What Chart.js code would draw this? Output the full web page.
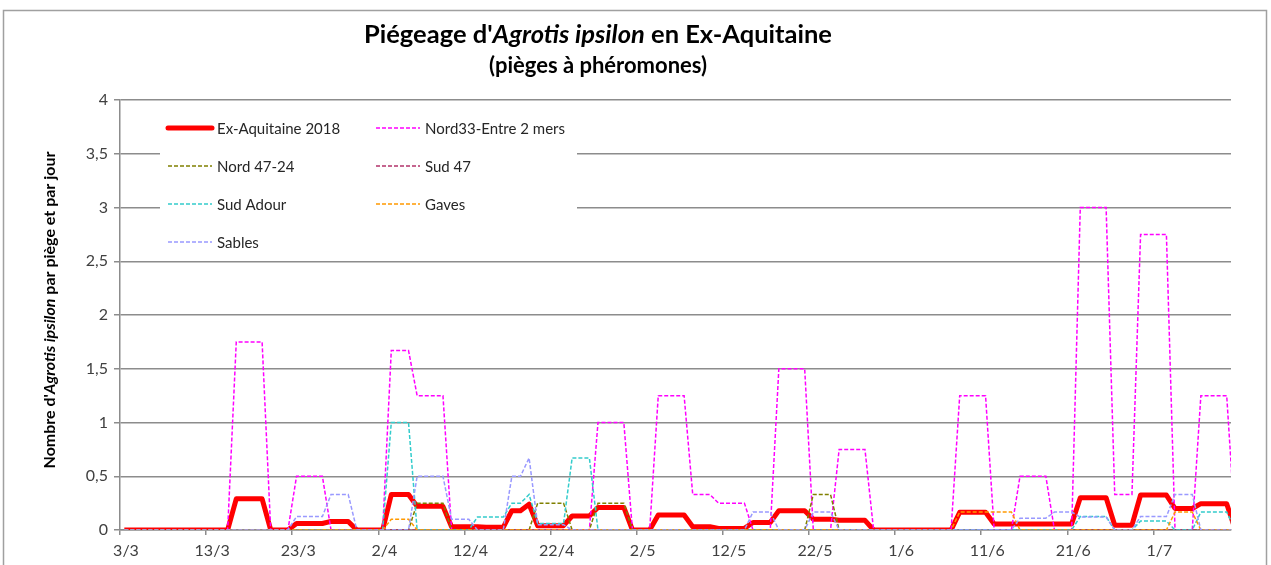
<!DOCTYPE html>
<html>
<head>
<meta charset="utf-8">
<script src="https://cdn.jsdelivr.net/npm/chart.js@4.4.0/dist/chart.umd.min.js"></script>
<style>
  html, body { margin: 0; padding: 0; background: #fff; }
  canvas { display: block; }
</style>
</head>
<body>
<canvas id="graphique" width="1271" height="565"></canvas>
<script>
// une valeur par jour, du 3/3 au 10/7
const xTickLabels = ["3/3", "13/3", "23/3", "2/4", "12/4", "22/4", "2/5", "12/5", "22/5", "1/6", "11/6", "21/6", "1/7"];
const yTickStep = 0.5;

const exAquitaine = [
  0,0,0,0,0,0,0,0,0,0,0,0,0,
  0.29,0.29,0.29,0.29, 0,0,0, 0.06,0.06,0.06,0.06, 0.08,0.08,0.08, 0,0,0,0,
  0.33,0.33,0.33, 0.22,0.22,0.22,0.22, 0.03,0.03,0.03,0.03, 0.025,0.025,0.025,
  0.18,0.18, 0.24, 0.04,0.04,0.04,0.04, 0.13,0.13,0.13, 0.21,0.21,0.21,0.21, 0,0,0,
  0.14,0.14,0.14,0.14, 0.03,0.03,0.03, 0.015,0.015,0.015,0.015, 0.07,0.07,0.07,
  0.18,0.18,0.18,0.18, 0.1,0.1,0.1, 0.09,0.09,0.09,0.09,
  0,0,0,0,0,0,0,0,0,0,
  0.165,0.165,0.165,0.165,
  0.056,0.056,0.056,0.056,0.056,0.056,0.056,0.056,0.056,0.056,
  0.3,0.3,0.3,0.3, 0.045,0.045,0.045, 0.325,0.325,0.325,0.325, 0.2,0.2,0.2,
  0.245,0.245,0.245,0.245, 0
];
const nord33 = [
  0,0,0,0,0,0,0,0,0,0,0,0,0,
  1.75,1.75,1.75,1.75, 0,0,0, 0.5,0.5,0.5,0.5, 0,0,0,0,0,0,0,
  1.67,1.67,1.67, 1.25,1.25,1.25,1.25,
  0,0,0,0,0,0,0,0,0,0,0,0,0,0,0,0,0,
  1,1,1,1, 0,0,0, 1.25,1.25,1.25,1.25, 0.33,0.33,0.33, 0.25,0.25,0.25,0.25, 0,0,0,
  1.5,1.5,1.5,1.5, 0,0,0, 0.75,0.75,0.75,0.75,
  0,0,0,0,0,0,0,0,0,0,
  1.25,1.25,1.25,1.25, 0,0,0, 0.5,0.5,0.5,0.5, 0,0,0,
  3,3,3,3, 0.33,0.33,0.33, 2.75,2.75,2.75,2.75, 0,0,0, 1.25,1.25,1.25,1.25, 0
];
const nord4724 = [
  0,0,0,0,0,0,0,0,0,0,0,0,0,0,0,0,0,0,0,0,0,0,0,0,0,0,0,0,0,0,0,0,0,0,
  0.25,0.25,0.25,0.25, 0,0,0,0,0,0,0,0,0,0, 0.25,0.25,0.25,0.25, 0,0,0,
  0.25,0.25,0.25,0.25,
  0,0,0,0,0,0,0,0,0,0,0,0,0,0,0,0,0,0,0,0,0,
  0.33,0.33,0.33,
  0,0,0,0,0,0,0,0,0,0,0,0,0,0,0,0,0,0,0,0,0,0,0,0,0,0,0,0,0,0,0,0,0,0,0,0,0,0,0,0,0,0,0,0,0,0,0
];
const sud47 = new Array(130).fill(0);
const sudAdour = [
  0,0,0,0,0,0,0,0,0,0,0,0,0,0,0,0,0,0,0,0,0,0,0,0,0,0,0,0,0,0,0,
  1,1,1, 0,0,0,0,0,0,0, 0.12,0.12,0.12,0.12, 0.25,0.25, 0.33, 0.06,0.06,0.06,0.06,
  0.67,0.67,0.67,
  0,0,0,0,0,0,0,0,0,0,0,0,0,0,0,0,0,0,0,0,0,0,0,0,0,0,0,0,
  0,0,0,0,0,0,0,0,0,0,0,0,0,0,0,0,0,0,0,0,0,0,0,0,0,0,0,0,
  0.125,0.125,0.125,0.125, 0,0,0, 0.083,0.083,0.083,0.083, 0,0,0,
  0.167,0.167,0.167,0.167, 0
];
const gaves = [
  0,0,0,0,0,0,0,0,0,0,0,0,0,0,0,0,0,0,0,0,0,0,0,0,0,0,0,0,0,0,0,
  0.1,0.1,0.1,
  0,0,0,0,0,0,0,0,0,0,0,0,0,0,0,0,0,0,0,0,0,0,0,0,0,0,0,0,0,0,0,0,
  0,0,0,0,0,0,0,0,0,0,0,0,0,0,0,0,0,0,0,0,0,0,0,0,0,0,0,0,0,0,0,
  0.167,0.167,0.167,0.167,0.167,0.167,0.167,
  0,0,0,0,0,0,0,0,0,0,0,0,0,0,0,0,0,0,
  0.167,0.167,0.167, 0,0,0,0,0
];
const sables = [
  0,0,0,0,0,0,0,0,0,0,0,0,0,0,0,0,0,0,0,0,
  0.125,0.125,0.125,0.125, 0.33,0.33,0.33, 0,0,0,0,0,0,0,
  0.5,0.5,0.5,0.5, 0.1,0.1,0.1, 0,0,0,0, 0.5,0.5, 0.67, 0.05,0.05,0.05,0.05,
  0,0,0,0,0,0,0,0,0,0,0,0,0,0,0,0,0,0,0,0,0,
  0.167,0.167,0.167, 0,0,0,0, 0.167,0.167,0.167,
  0,0,0,0,0,0,0,0,0,0,0,0,0,0,0,0,0,0,0,0,0,
  0.11,0.11,0.11,0.11, 0.167,0.167,0.167, 0.12,0.12,0.12,0.12, 0,0,0,
  0.125,0.125,0.125,0.125, 0.33,0.33,0.33, 0,0,0,0,0
];

const series = [
  { label: "Ex-Aquitaine 2018", data: exAquitaine, color: "#ff0000" },
  { label: "Nord33-Entre 2 mers", data: nord33, color: "#ff00ff" },
  { label: "Nord 47-24", data: nord4724, color: "#808000" },
  { label: "Sud 47", data: sud47, color: "#b3336b" },
  { label: "Sud Adour", data: sudAdour, color: "#33cccc" },
  { label: "Gaves", data: gaves, color: "#ff9900" },
  { label: "Sables", data: sables, color: "#9999ff" }
];

const FONT = "Lato, 'Open Sans', sans-serif";
const GRIS = "#8c8c8c";

function ligneRiche(ctx, morceaux, cx, cy, taille) {
  const polices = morceaux.map(m => (m.italic ? "italic " : "") + "bold " + taille + "px " + FONT);
  let total = 0;
  const largeurs = morceaux.map((m, i) => {
    ctx.font = polices[i];
    const w = ctx.measureText(m.text).width;
    total += w;
    return w;
  });
  let x = cx - total / 2;
  ctx.textBaseline = "middle";
  ctx.textAlign = "left";
  morceaux.forEach((m, i) => {
    ctx.font = polices[i];
    ctx.fillText(m.text, x, cy);
    x += largeurs[i];
  });
}

// cadre, titres et légende dessinés à la main (style Excel)
const habillage = {
  id: "habillage",
  beforeDraw(chart) {
    const ctx = chart.ctx;
    ctx.save();
    ctx.fillStyle = "#fff";
    ctx.fillRect(0, 0, chart.width, chart.height);
    ctx.strokeStyle = "#a0a0a0";
    ctx.lineWidth = 1.5;
    ctx.strokeRect(3.5, 10.5, 1263, 600);
    ctx.restore();
  },
  afterDatasetsDraw(chart) {
    const ctx = chart.ctx;
    ctx.save();
    ctx.fillStyle = "#000";
    ligneRiche(ctx, [
      { text: "Piégeage d'" },
      { text: "Agrotis ipsilon", italic: true },
      { text: " en Ex-Aquitaine" }
    ], 598, 35, 25.5);
    ligneRiche(ctx, [{ text: "(pièges à phéromones)" }], 598, 66, 22);

    ctx.save();
    ctx.translate(50, 310);
    ctx.rotate(-Math.PI / 2);
    ligneRiche(ctx, [
      { text: "Nombre d'" },
      { text: "Agrotis ipsilon", italic: true },
      { text: " par piège et par jour" }
    ], 0, 0, 16);
    ctx.restore();

    // légende
    ctx.fillStyle = "#fff";
    ctx.fillRect(160, 102, 417, 157);
    const cols = [168, 376];
    const rows = [128, 166, 204, 242];
    ctx.font = "15px " + FONT;
    ctx.textBaseline = "middle";
    chart.data.datasets.forEach((ds, i) => {
      const x = cols[i % 2];
      const y = rows[Math.floor(i / 2)];
      ctx.beginPath();
      ctx.strokeStyle = ds.borderColor;
      ctx.lineWidth = ds.borderWidth;
      ctx.setLineDash(ds.borderDash || []);
      ctx.lineCap = i === 0 ? "round" : "butt";
      ctx.moveTo(x, y);
      ctx.lineTo(x + 44, y);
      ctx.stroke();
      ctx.setLineDash([]);
      ctx.fillStyle = "#262626";
      ctx.fillText(ds.label, x + 49, y + 1);
    });
    ctx.restore();
  }
};

new Chart(document.getElementById("graphique"), {
  type: "line",
  data: {
    datasets: series.map((s, i) => ({
      label: s.label,
      data: s.data.map((v, j) => ({ x: j + 0.5, y: v })),
      borderColor: s.color,
      backgroundColor: s.color,
      borderWidth: i === 0 ? 5 : 1.5,
      borderDash: i === 0 ? [] : [4, 2],
      borderJoinStyle: i === 0 ? "round" : "miter",
      pointRadius: 0,
      tension: 0,
      order: series.length - i
    }))
  },
  options: {
    responsive: false,
    animation: false,
    layout: { padding: { left: 0, top: 100, right: 40, bottom: 0 } },
    plugins: {
      legend: { display: false },
      title: { display: false },
      tooltip: { enabled: false }
    },
    scales: {
      x: {
        type: "linear",
        min: 0,
        max: 129,
        afterFit(scale) { scale.height = 35; },
        grid: { drawOnChartArea: false, color: GRIS, lineWidth: 1.5, tickLength: 5 },
        border: { color: GRIS, width: 1.5 },
        ticks: {
          stepSize: 10,
          includeBounds: false,
          autoSkip: false,
          maxRotation: 0,
          padding: 6,
          labelOffset: 6,
          color: "#404040",
          font: { family: FONT, size: 16 },
          callback: (v) => (v % 10 === 0 ? xTickLabels[v / 10] : null)
        }
      },
      y: {
        min: 0,
        max: 4,
        afterFit(scale) { scale.width = 120; },
        grid: { color: GRIS, lineWidth: 1.5, tickLength: 6 },
        border: { color: GRIS, width: 1.5 },
        ticks: {
          stepSize: yTickStep,
          padding: 6,
          color: "#404040",
          font: { family: FONT, size: 16 },
          callback: (v) => String(v).replace(".", ",")
        }
      }
    }
  },
  plugins: [habillage]
});
</script>
</body>
</html>
